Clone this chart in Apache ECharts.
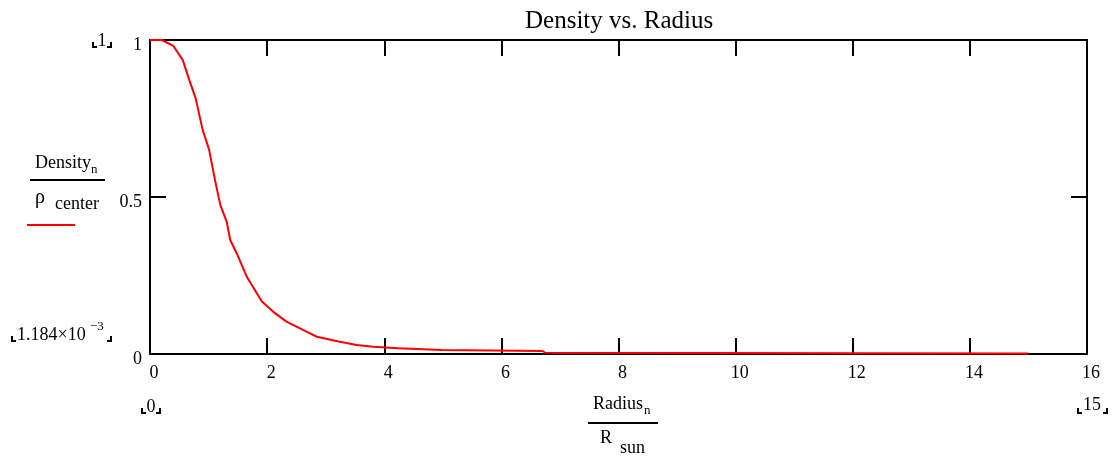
<!DOCTYPE html>
<html>
<head>
<meta charset="utf-8">
<script src="https://cdn.jsdelivr.net/npm/echarts@6/dist/echarts.min.js"></script>
<style>
  html, body { margin: 0; padding: 0; background: #fff; }
  #chart { width: 1112px; height: 456px; }
</style>
</head>
<body>
<div id="chart"></div>
<script>
// values
const radius = [0, 0.2, 0.4, 0.56, 0.67, 0.78, 0.9, 1.01, 1.11, 1.2, 1.31, 1.37, 1.48, 1.65, 1.79, 1.91, 2.1, 2.33, 2.62, 2.85, 3.24, 3.53, 3.81, 4.24, 4.98, 5.0, 6.7, 6.75, 15]
const density = [1.0, 1.0, 0.981, 0.936, 0.873, 0.814, 0.713, 0.65, 0.554, 0.475, 0.421, 0.363, 0.321, 0.247, 0.204, 0.167, 0.135, 0.103, 0.076, 0.055, 0.039, 0.029, 0.023, 0.018, 0.013, 0.0096, 0.0096, 0.004, 0.0012]
const xTicks = { min: 0, max: 16, interval: 2 }
const yTicks = { min: 0, max: 1, interval: 0.5 }

const serif = 'Liberation Serif'
const black = '#000'

const chart = echarts.init(document.getElementById('chart'))

function bracketL(x, y) {
  return { type: 'polyline', shape: { points: [[x, y - 5], [x, y], [x + 4, y]] }, style: { stroke: black, lineWidth: 2, fill: null } }
}
function bracketR(x, y) {
  return { type: 'polyline', shape: { points: [[x - 4, y], [x, y], [x, y - 5]] }, style: { stroke: black, lineWidth: 2, fill: null } }
}
function txt(x, y, text, size, align) {
  return { type: 'text', x, y, style: { text, font: `${size}px "${serif}"`, fill: black, align: align || 'left', verticalAlign: 'bottom' } }
}

const axisCommon = {
  type: 'value',
  axisLine: { show: true, onZero: false, lineStyle: { color: black, width: 2 } },
  axisTick: { show: true, inside: true, length: 16, lineStyle: { color: black, width: 2 } },
  splitLine: { show: false },
}

const option = {
  animation: false,
  backgroundColor: '#fff',
  title: {
    text: 'Density vs. Radius',
    left: 520,
    top: 4,
    textStyle: { fontFamily: serif, fontSize: 25, fontWeight: 'normal', color: black },
  },
  legend: {
    data: ['Density'],
    left: 27,
    top: 224,
    icon: 'rect',
    itemWidth: 48,
    itemHeight: 2,
    padding: 0,
    formatter: () => '',
  },
  grid: { left: 150, right: 25, top: 40, bottom: 102 },
  xAxis: [
    {
      ...axisCommon, ...xTicks, position: 'bottom',
      axisLabel: { margin: 10, padding: [0, 0, 0, 8], fontFamily: serif, fontSize: 18, color: black },
    },
    {
      ...axisCommon, ...xTicks, position: 'top',
      axisLabel: { show: false },
    },
  ],
  yAxis: [
    {
      ...axisCommon, ...yTicks, position: 'left',
      axisLabel: { margin: 8, verticalAlign: 'top', lineHeight: 10, fontFamily: serif, fontSize: 18, color: black },
    },
    {
      ...axisCommon, ...yTicks, position: 'right',
      axisLabel: { show: false },
    },
  ],
  series: [
    {
      name: 'Density',
      type: 'line',
      xAxisIndex: 0,
      yAxisIndex: 0,
      data: radius.map((r, i) => [r, density[i]]),
      showSymbol: false,
      color: '#ff0000',
      lineStyle: { color: '#ff0000', width: 2 },
    },
  ],
  graphic: [
    // y label: Density_n / rho center
    txt(35, 172, 'Density', 18),
    txt(91, 176, 'n', 13),
    { type: 'line', shape: { x1: 30, y1: 180, x2: 105, y2: 180 }, style: { stroke: black, lineWidth: 2 } },
    txt(35, 208, 'ρ', 20),
    txt(55, 213, 'center', 18),
    // x label: Radius_n / R sun
    txt(593, 413, 'Radius', 18),
    txt(644, 417, 'n', 13),
    { type: 'line', shape: { x1: 588, y1: 423, x2: 658, y2: 423 }, style: { stroke: black, lineWidth: 2 } },
    txt(600, 447, 'R', 18),
    txt(620, 457, 'sun', 18),
    // range annotations
    txt(102, 50, '1', 18, 'center'),
    bracketL(93, 47), bracketR(111, 47),
    txt(17, 344, '1.184×10', 18),
    txt(90, 333, '−3', 13),
    bracketL(12, 341), bracketR(111, 341),
    txt(151, 416, '0', 18, 'center'),
    bracketL(142, 413), bracketR(160, 413),
    txt(1092, 414, '15', 18, 'center'),
    bracketL(1078, 413), bracketR(1107, 413),
  ],
}

chart.setOption(option)
</script>
</body>
</html>
